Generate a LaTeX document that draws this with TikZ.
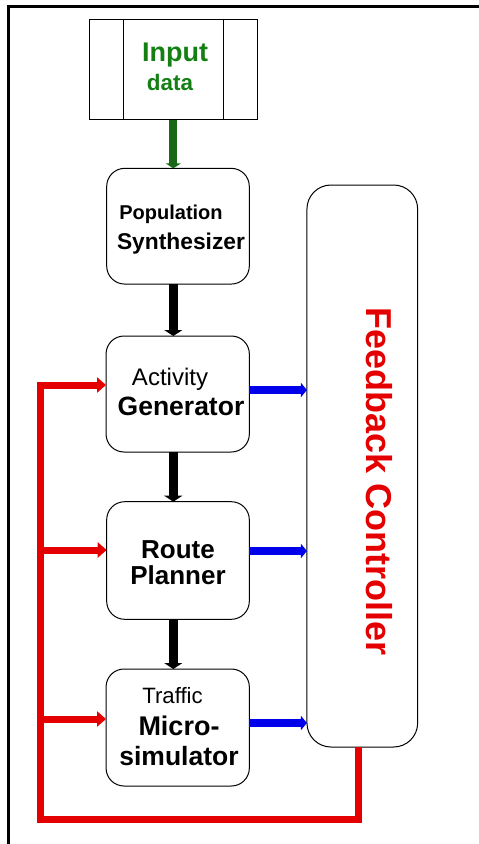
\documentclass[tikz,border=0pt]{standalone}
\usepackage{fontspec}
\setmainfont{Liberation Sans}
\usetikzlibrary{arrows.meta,calc}
\definecolor{fbred}{RGB}{228,0,0}
\definecolor{fbblue}{RGB}{0,0,235}
\definecolor{txtgreen}{RGB}{20,128,20}
\definecolor{arrgreen}{RGB}{25,105,25}
\tikzset{
  x=1pt, y=-1pt,
  box/.style={draw, line width=1pt, rounded corners=18pt, inner sep=0pt, outer sep=0pt},
  lbl/.style={anchor=base, inner sep=0pt, outer sep=0pt},
  blkarrow/.style={line width=9pt, draw=black, -{Triangle[width=18pt,length=6pt]}},
  grnarrow/.style={line width=8pt, draw=arrgreen, -{Triangle[width=15pt,length=5pt]}},
  bluarrow/.style={line width=8pt, draw=fbblue, -{Triangle[width=14pt,length=6pt]}},
  redarrow/.style={line width=7pt, draw=fbred, -{Triangle[width=15pt,length=9pt]}},
  redline/.style={line width=7pt, draw=fbred, line join=miter},
}
\newcommand{\fsz}[1]{\fontsize{#1}{#1}\selectfont}
\begin{document}
\begin{tikzpicture}
\useasboundingbox (0,0) rectangle (479,844);
% outer frame
\coordinate (ftl) at (8.7,6.2);
\coordinate (ftr) at (481,6.2);
\coordinate (fbl) at (8.7,846);
\draw[line width=2.6pt] (ftr) -- (ftl) -- (fbl);
% input data box
\node[draw, line width=1pt, minimum width=168pt, minimum height=100pt, inner sep=0pt] (inp) at (173.3,69) {};
\coordinate (il) at (123.3,0);
\coordinate (ir) at (223.3,0);
\draw[line width=1pt] (inp.north -| il) -- (inp.south -| il);
\draw[line width=1pt] (inp.north -| ir) -- (inp.south -| ir);
\node[lbl, text=txtgreen] (tinp) at (175,61) {\fsz{27}\bfseries Input};
\node[lbl, text=txtgreen] (tdata) at (170,90.5) {\fsz{22.4}\bfseries data};
% process boxes
\node[box, minimum width=142.6pt, minimum height=115.7pt] (pop) at (178,226.2) {};
\node[box, minimum width=143.3pt, minimum height=116pt] (act) at (177.7,394) {};
\node[box, minimum width=142.6pt, minimum height=117.6pt] (rte) at (178,560.5) {};
\node[box, minimum width=143.3pt, minimum height=117pt] (trf) at (177.7,727.5) {};
\node[box, rounded corners=24pt, minimum width=110.7pt, minimum height=562pt] (fb) at (362.3,466) {};
% texts
\node[lbl] (tpop1) at (171,219) {\fsz{20}\bfseries Population};
\node[lbl] (tpop2) at (181,249) {\fsz{22.8}\bfseries Synthesizer};
\node[lbl] (tact1) at (170,385) {\fsz{24}Activity};
\node[lbl] (tact2) at (181,415) {\fsz{26.5}\bfseries Generator};
\node[lbl] (trte1) at (178,558) {\fsz{26}\bfseries Route};
\node[lbl] (trte2) at (178,584) {\fsz{26}\bfseries Planner};
\node[lbl] (ttrf1) at (172.5,703) {\fsz{22.2}Traffic};
\node[lbl] (ttrf2) at (179,735) {\fsz{27}\bfseries Micro-};
\node[lbl] (ttrf3) at (179,765) {\fsz{26.5}\bfseries simulator};
\node[lbl, rotate=-90, text=fbred] (tfb) at (366,481.5) {\fsz{36}\bfseries Feedback Controller};
% vertical flow arrows
\draw[grnarrow] (inp.south) -- (pop.north -| inp);
\draw[blkarrow] (pop.south -| inp) -- (act.north -| inp);
\draw[blkarrow] (act.south -| inp) -- (rte.north -| inp);
\draw[blkarrow] (rte.south -| inp) -- (trf.north -| inp);
% blue arrows to feedback controller
\coordinate (b1) at (0,390);
\coordinate (b2) at (0,551);
\coordinate (b3) at (0,723);
\draw[bluarrow] (act.east |- b1) -- (fb.west |- b1);
\draw[bluarrow] (rte.east |- b2) -- (fb.west |- b2);
\draw[bluarrow] (trf.east |- b3) -- (fb.west |- b3);
% red feedback loop
\coordinate (rx) at (358,0);
\coordinate (r1) at (40,385);
\coordinate (r2) at (40,550);
\coordinate (r3) at (40,719);
\coordinate (rb) at (40,819);
\draw[redline] (fb.south -| rx) -- (rx |- rb) -- (rb) -- (r1);
\draw[redarrow] ([xshift=-3.5pt]r1) -- (act.west |- r1);
\draw[redarrow] (r2) -- (rte.west |- r2);
\draw[redarrow] (r3) -- (trf.west |- r3);
\end{tikzpicture}
\end{document}
